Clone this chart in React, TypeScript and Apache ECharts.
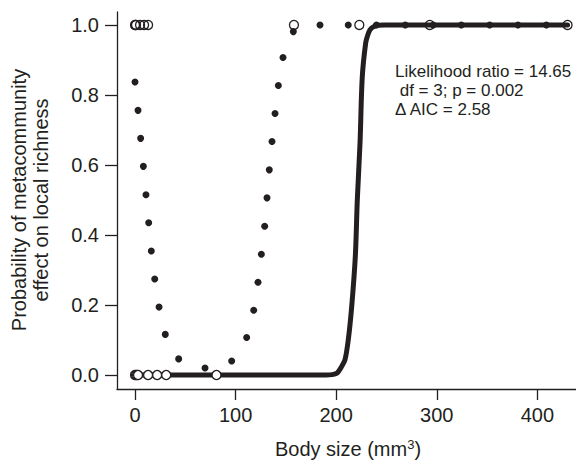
import React, { useEffect, useRef } from "react";
import * as echarts from "echarts";

// Fitted (solid) curve
const curveX = [0, 100, 190, 196, 200, 202, 205, 208.7, 212, 215.4, 219, 221, 223.7, 225.9, 229.3, 231.5, 233.6, 236.5, 241.5, 248, 300, 430];
const curveY = [0, 0, 0, 0.001, 0.004, 0.009, 0.022, 0.043, 0.1, 0.195, 0.338, 0.5, 0.663, 0.85, 0.948, 0.972, 0.986, 0.994, 0.999, 1, 1, 1];

// Dotted curve (filled dots)
const dotX = [0, 3, 5.6, 8.3, 10.9, 13.6, 16.2, 19.6, 23.9, 30.1, 43.4, 69.6, 96.1, 111, 118, 122.3, 125.6, 128.9, 131.2, 133.5, 136.2, 139.2, 142.5, 147.1, 157.4, 183.9, 212, 240, 268.7, 296.5, 324.4, 352.6, 380.7, 408.9];
const dotY = [0.837, 0.756, 0.676, 0.596, 0.515, 0.435, 0.354, 0.274, 0.194, 0.116, 0.046, 0.02, 0.04, 0.107, 0.185, 0.265, 0.345, 0.425, 0.506, 0.586, 0.667, 0.747, 0.827, 0.907, 0.981, 1, 1, 1, 1, 1, 1, 1, 1, 1];

// Observed sites (open circles)
const presentX = [0, 0.5, 1, 5, 9, 13, 158, 223, 293, 430];
const absentX = [0, 1, 2, 3, 13, 22, 31, 81];

const xTicks = [0, 100, 200, 300, 400];
const yTicks = [0, 0.2, 0.4, 0.6, 0.8, 1.0];

const annotation = ["Likelihood ratio = 14.65", " df = 3; p = 0.002", "\u0394\u2009AIC = 2.58"];

const INK = "#231f20";

export default function App() {
  const ref = useRef<HTMLDivElement>(null);
  useEffect(() => {
    if (!ref.current) return;
    const chart = echarts.init(ref.current, undefined, { renderer: "svg" });
    const font = "'Liberation Sans', Arial, Helvetica, sans-serif";
    chart.setOption({
      animation: false,
      backgroundColor: "#ffffff",
      textStyle: { fontFamily: font, color: INK },
      grid: { left: 117, right: 0, top: 12, bottom: 71, containLabel: false },
      xAxis: {
        type: "value",
        min: -17.9,
        max: 438.4,
        splitLine: { show: false },
        axisLine: { show: true, onZero: false, lineStyle: { color: INK, width: 1.3 } },
        axisTick: { show: true, inside: false, length: 11, customValues: xTicks, lineStyle: { color: INK, width: 1.3 } },
        axisLabel: { show: true, customValues: xTicks, fontSize: 20, color: INK, margin: 16, fontFamily: font },
      },
      yAxis: {
        type: "value",
        min: -0.04,
        max: 1.037,
        splitLine: { show: false },
        axisLine: { show: true, onZero: false, lineStyle: { color: INK, width: 1.3 } },
        axisTick: { show: true, inside: false, length: 12, customValues: yTicks, lineStyle: { color: INK, width: 1.3 } },
        axisLabel: {
          show: true,
          customValues: yTicks,
          fontSize: 20,
          color: INK,
          margin: 18,
          fontFamily: font,
          formatter: (v: number) => v.toFixed(1),
        },
      },
      series: [
        {
          type: "line",
          data: curveX.map((x, i) => [x, curveY[i]]),
          symbol: "none",
          smooth: 0.3,
          lineStyle: { color: INK, width: 5, cap: "round", join: "round", opacity: 1 },
          z: 2,
        },
        {
          type: "scatter",
          data: dotX.map((x, i) => [x, dotY[i]]),
          symbol: "circle",
          symbolSize: 7,
          itemStyle: { color: INK, opacity: 1 },
          z: 3,
        },
        {
          type: "scatter",
          data: presentX.map((x) => [x, 1]),
          symbol: "circle",
          symbolSize: 9,
          itemStyle: { color: "rgba(0,0,0,0)", borderColor: INK, borderWidth: 1.3, opacity: 1 },
          z: 4,
        },
        {
          type: "scatter",
          data: absentX.map((x) => [x, 0]),
          symbol: "circle",
          symbolSize: 9,
          itemStyle: { color: "#ffffff", borderColor: INK, borderWidth: 1.3, opacity: 1 },
          z: 4,
        },
      ],
      graphic: [
        {
          type: "text",
          x: 348,
          y: 449,
          style: {
            text: "Body size (mm{sup|3})",
            fontSize: 20,
            fontFamily: font,
            fill: INK,
            align: "center",
            verticalAlign: "middle",
            rich: {
              sup: { fontSize: 13, fontFamily: font, fill: INK, verticalAlign: "top", padding: [0, 0, 10, 0] },
            },
          },
        },
        {
          type: "text",
          x: 30,
          y: 200,
          rotation: Math.PI / 2,
          style: {
            text: "Probability of metacommunity\neffect on local richness",
            fontSize: 20,
            lineHeight: 22,
            fontFamily: font,
            fill: INK,
            align: "center",
            verticalAlign: "middle",
          },
        },
        {
          type: "text",
          x: 395,
          y: 90,
          style: {
            text: annotation.join("\n"),
            fontSize: 17,
            lineHeight: 19,
            fontFamily: font,
            fill: INK,
            align: "left",
            verticalAlign: "middle",
          },
        },
      ],
    });
    return () => chart.dispose();
  }, []);
  return <div ref={ref} style={{ position: "absolute", left: 0, top: 0, width: 576, height: 460 }} />;
}
